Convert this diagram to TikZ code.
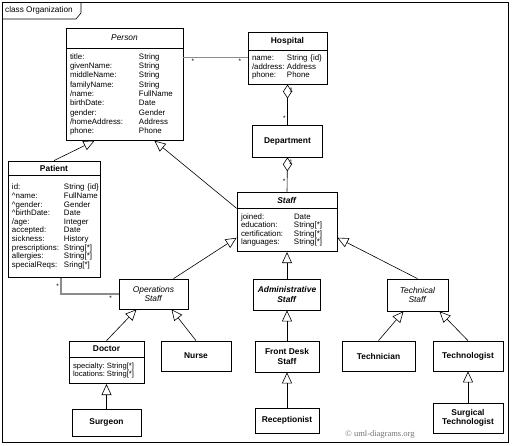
\documentclass[tikz,border=0pt]{standalone}
\usepackage{fontspec}
\setmainfont{Liberation Sans}
\newfontfamily\copyfont{Liberation Serif}
\usetikzlibrary{arrows.meta}

\newcommand{\attrfont}[1]{\fontsize{7.9}{#1}\selectfont}

\begin{document}
\begin{tikzpicture}[x=1pt,y=-1pt,font=\fontsize{8.4}{9.5}\selectfont]
  \tikzstyle{cls}=[draw,line width=0.7pt,fill=white,inner sep=4pt,align=center]
  \tikzstyle{attrs}=[cls,anchor=north,align=left]
  \tikzstyle{gen}=[draw,line width=0.6pt,-{Triangle[open,length=11pt,width=10pt]}]
  \tikzstyle{agg}=[draw,line width=0.6pt,{Diamond[open,length=14pt,width=9pt]}-]
  \tikzstyle{assoc}=[draw=black!45,line width=1.1pt]
  \tikzstyle{mult}=[font=\fontsize{6.5}{6.5}\selectfont,inner sep=1.5pt]
  \useasboundingbox (0,0) rectangle (512,445);

  % frame
  \draw[line width=0.6pt] (2,2) rectangle (508,442);
  \draw[line width=0.6pt] (2,19) -- (76,19) -- (81,13) -- (81,2);
  \node[anchor=west,inner sep=0pt,font=\fontsize{8.2}{9}\selectfont] (title) at (5,10.5) {class Organization};

  % classes
  \node [cls,minimum width=117pt,minimum height=20pt] (person) at (124.5,38) {\textit{Person}};
  \node [attrs,text width=109pt,minimum height=88pt] (person-attr) at (person.south) {\attrfont{9.3}\begin{tabular}{@{}p{69pt}@{}l@{}}
    title: & String\\ givenName: & String\\ middleName: & String\\ familyName: & String\\ /name: & FullName\\
    birthDate: & Date\\ gender: & Gender\\ /homeAddress: & Address\\ phone: & Phone\end{tabular}};
  \node [cls,minimum width=79pt,minimum height=18pt] (hospital) at (287.5,41) {\textbf{Hospital}};
  \node [attrs,text width=71pt,minimum height=33pt] (hospital-attr) at (hospital.south) {\attrfont{8.5}\begin{tabular}{@{}p{35pt}@{}l@{}}
    name: & String \{id\}\\ /address: & Address\\ phone: & Phone\end{tabular}};
  \node [cls,minimum width=70pt,minimum height=32pt] (department) at (287.5,141) {\textbf{Department}};
  \node [cls,minimum width=92pt,minimum height=14pt] (patient) at (54,168) {\textbf{Patient}};
  \node [attrs,text width=84pt,minimum height=102pt] (patient-attr) at (patient.south) {\attrfont{8.6}\begin{tabular}{@{}p{52pt}@{}l@{}}
    id: & String \{id\}\\ \textasciicircum name: & FullName\\ \textasciicircum gender: & Gender\\ \textasciicircum birthDate: & Date\\
    /age: & Integer\\ accepted: & Date\\ sickness: & History\\ prescriptions: & String[*]\\ allergies: & String[*]\\
    specialReqs: & Sring[*]\end{tabular}};
  \node [cls,minimum width=100pt,minimum height=16pt] (staff) at (287,200) {\textbf{\textit{Staff}}};
  \node [attrs,text width=92pt,minimum height=43pt] (staff-attr) at (staff.south) {\attrfont{8.6}\begin{tabular}{@{}p{53pt}@{}l@{}}
    joined: & Date\\ education: & String[*]\\ certification: & String[*]\\ languages: & String[*]\end{tabular}};
  \node [cls,minimum width=69pt,minimum height=30pt] (opstaff) at (153.5,294) {\textit{Operations}\\\textit{Staff}};
  \node [cls,minimum width=64pt,minimum height=31pt] (admin) at (287,294.5) {\textbf{\textit{Administrative}}\\\textbf{\textit{Staff}}};
  \node [cls,minimum width=61pt,minimum height=32pt] (techstaff) at (417.5,295) {\textit{Technical}\\\textit{Staff}};
  \node [cls,minimum width=75pt,minimum height=16pt] (doctor) at (106.5,349) {\textbf{Doctor}};
  \node [attrs,text width=67pt,minimum height=26pt] (doctor-attr) at (doctor.south) {\fontsize{7.6}{8.5}\selectfont\begin{tabular}{@{}p{34pt}@{}l@{}}
    specialty: & String[*]\\ locations: & String[*]\end{tabular}};
  \node [cls,minimum width=70pt,minimum height=30pt] (nurse) at (196,356) {\textbf{Nurse}};
  \node [cls,minimum width=69pt,minimum height=27pt] (surgeon) at (106.5,422.5) {\textbf{Surgeon}};
  \node [cls,minimum width=64pt,minimum height=31pt] (frontdesk) at (287,356.5) {\textbf{Front Desk}\\\textbf{Staff}};
  \node [cls,minimum width=64pt,minimum height=25pt] (receptionist) at (287,420.5) {\textbf{Receptionist}};
  \node [cls,minimum width=73pt,minimum height=30pt] (technician) at (378.5,356) {\textbf{Technician}};
  \node [cls,minimum width=70pt,minimum height=30pt] (technologist) at (468,356) {\textbf{Technologist}};
  \node [cls,minimum width=70pt,minimum height=30pt] (surgtech) at (468,418) {\textbf{Surgical}\\\textbf{Technologist}};

  % associations
  \path[assoc] ([yshift=-9pt]person-attr.north east) -- node[mult,below,pos=0.15] {*} node[mult,below,pos=0.88] {*} ([yshift=-7pt]hospital-attr.north west);
  \path[assoc] ([xshift=7pt]patient-attr.south) |- node[mult,left,pos=0.25] {*} node[mult,below,pos=0.93] {*} (opstaff.west);
  \path[agg] (hospital-attr.south) -- node[mult,right,pos=0.15] {1} node[mult,left,pos=0.83] {*} (department.north);
  \path[agg] (department.south) -- node[mult,right,pos=0.14] {1} node[mult,left,pos=0.7] {*} (staff.north);

  % generalizations
  \path[gen] (patient.north) -- ([xshift=-30pt]person-attr.south);
  \path[gen] (staff.south west) -- ([xshift=30pt]person-attr.south);
  \path[gen] ([xshift=20pt]opstaff.north) -- ([yshift=-7.5pt]staff-attr.west);
  \path[gen] (admin.north) -- (staff-attr.south);
  \path[gen] (techstaff.north) -- ([yshift=-7.5pt]staff-attr.east);
  \path[gen] (doctor.north) -- ([xshift=-17pt]opstaff.south);
  \path[gen] (nurse.north) -- ([xshift=18pt]opstaff.south);
  \path[gen] (surgeon.north) -- (doctor-attr.south);
  \path[gen] (frontdesk.north) -- (admin.south);
  \path[gen] (receptionist.north) -- (frontdesk.south);
  \path[gen] (technician.north) -- ([xshift=-14pt]techstaff.south);
  \path[gen] (technologist.north) -- ([xshift=22pt]techstaff.south);
  \path[gen] (surgtech.north) -- (technologist.south);

  \node[text=black!55,font=\copyfont\fontsize{8.5}{10}\selectfont] (copyright) at (380,434) {© uml-diagrams.org};
\end{tikzpicture}
\end{document}
